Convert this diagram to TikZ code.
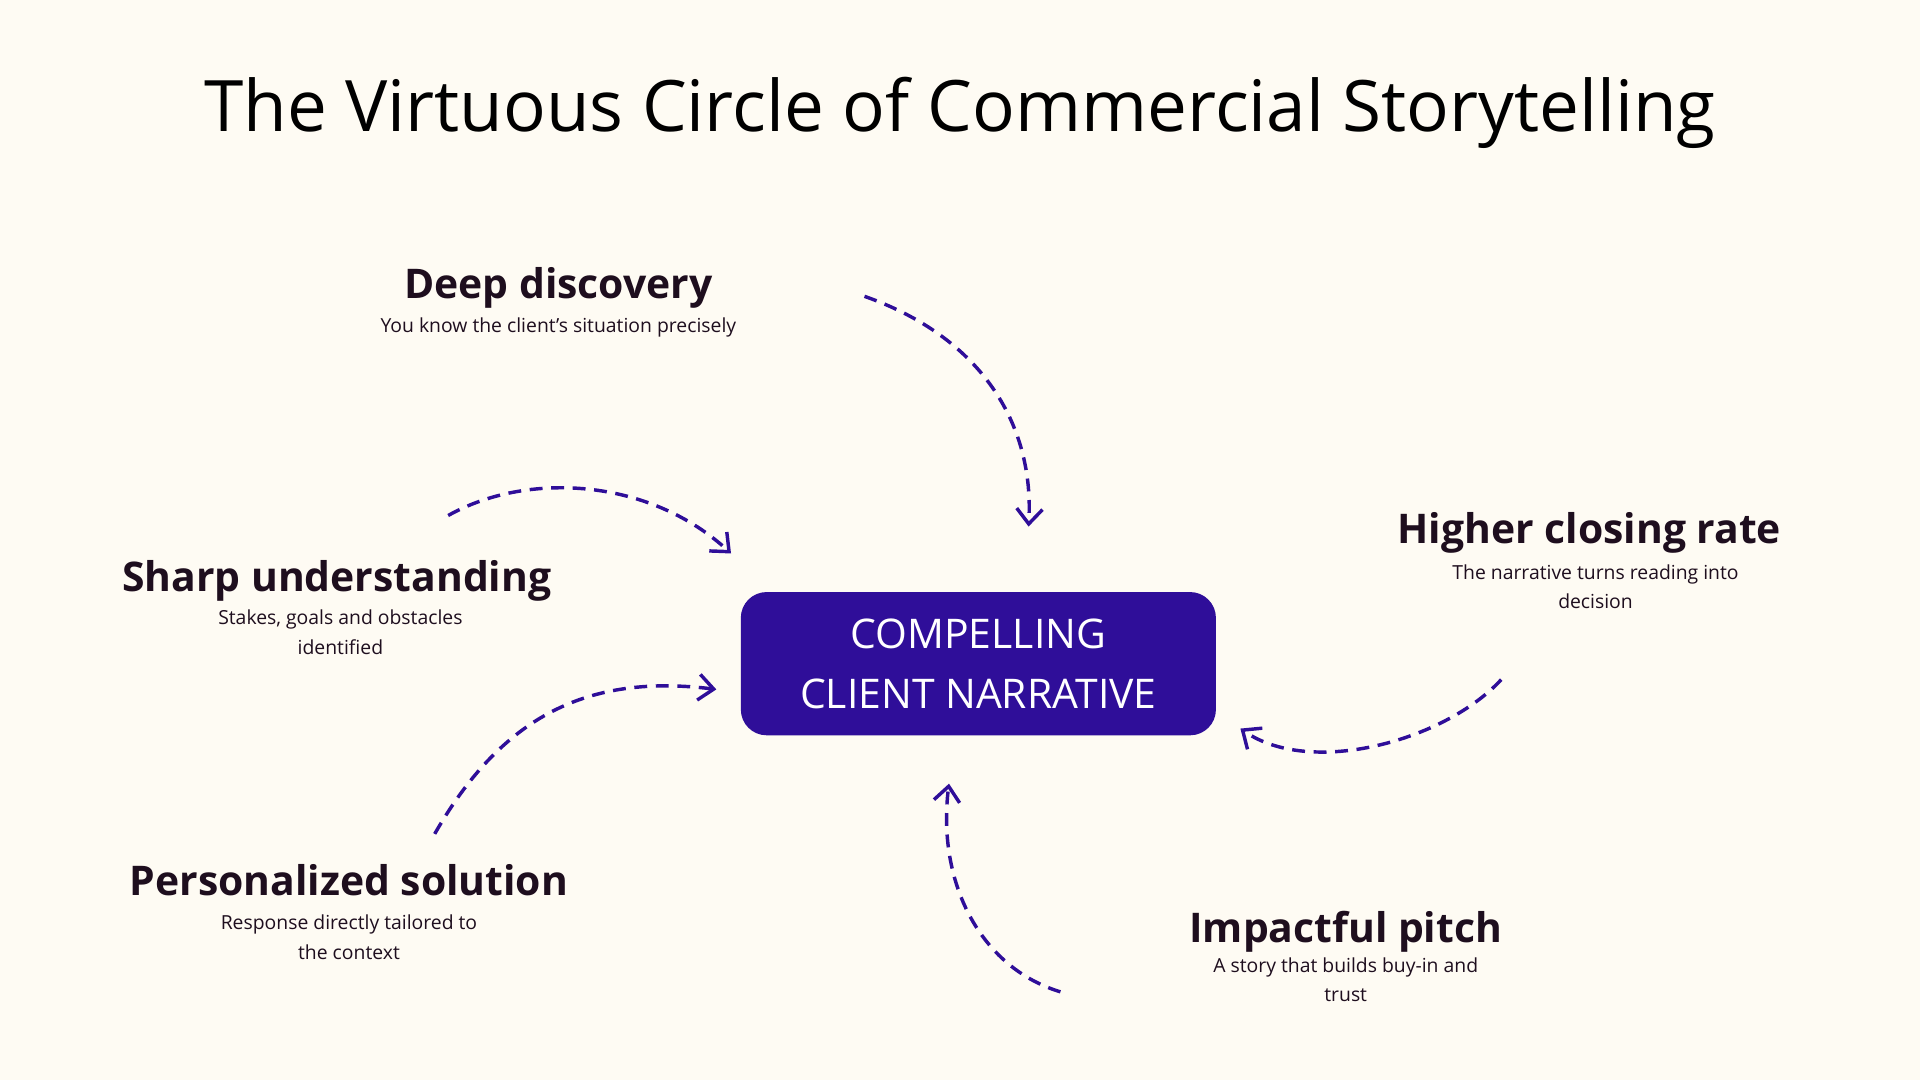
\documentclass[tikz,border=0pt]{standalone}
\usepackage{fontspec}
\setmainfont{Open Sans}
\usetikzlibrary{arrows.meta}
\definecolor{bgcream}{HTML}{FEFBF3}
\definecolor{indigo}{HTML}{2F0E99}
\definecolor{inkdark}{HTML}{1E0E1E}
\begin{document}
\begin{tikzpicture}[
        x=0.02cm, y=-0.02cm,
        % step headings
        head/.style={font=\fontsize{19}{22}\selectfont\bfseries, text=inkdark},
        % step descriptions
        desc/.style={font=\fontsize{9}{13.6}\selectfont, text=inkdark, align=center, anchor=north, inner sep=0pt},
        % dashed curved arrow
        arrow/.style={draw=indigo, line width=1.6pt, dash pattern=on 6pt off 4pt,
            -{Straight Barb[length=7pt,width=12pt,line width=1.6pt]}}
    ]

    % Background
    \fill[bgcream] (0,0) rectangle (1568,882);
    \useasboundingbox (0,0) rectangle (1568,882);

    % Title
    \node[font=\fontsize{33}{38}\selectfont, text=black] (title) at (784,92) {The Virtuous Circle of Commercial Storytelling};

    % Center box
    \node[fill=indigo, rounded corners=12pt, minimum width=388*0.02cm, minimum height=117*0.02cm,
          text=white, align=center, font=\fontsize{19}{28}\selectfont] (core) at (799,542)
          {COMPELLING\\CLIENT NARRATIVE};

    % Steps
    \node[head] (discovery) at (456,235) {Deep discovery};
    \node[desc] (discoveryTxt) at (456,259) {You know the client's situation precisely};

    \node[head] (sharp) at (275,474) {Sharp understanding};
    \node[desc] (sharpTxt) at (278,498) {Stakes, goals and obstacles\\identified};

    \node[head] (solution) at (285,719) {Personalized solution};
    \node[desc] (solutionTxt) at (285,747) {Response directly tailored to\\the context};

    \node[head] (closing) at (1298,435) {Higher closing rate};
    \node[desc] (closingTxt) at (1303,461) {The narrative turns reading into\\decision};

    \node[head] (pitch) at (1099,761) {Impactful pitch};
    \node[desc] (pitchTxt) at (1099,782) {A story that builds buy-in and\\trust};

    % Arrow end points
    \coordinate (a1s) at (706,242);  \coordinate (a1e) at (840,430);
    \coordinate (a2s) at (366,421);  \coordinate (a2e) at (597,452);
    \coordinate (a3s) at (355,681);  \coordinate (a3e) at (585,563);
    \coordinate (a4s) at (1226,555); \coordinate (a4e) at (1013,595);
    \coordinate (a5s) at (866,810);  \coordinate (a5e) at (775,640);

    % Arrows
    \draw[arrow] (a1s) .. controls (800,275) and (845,345) .. (a1e);
    \draw[arrow] (a2s) .. controls (430,385) and (530,390) .. (a2e);
    \draw[arrow] (a3s) .. controls (410,585) and (480,550) .. (a3e);
    \draw[arrow] (a4s) .. controls (1180,605) and (1070,635) .. (a4e);
    \draw[arrow] (a5s) .. controls (800,790) and (765,720) .. (a5e);

\end{tikzpicture}
\end{document}
